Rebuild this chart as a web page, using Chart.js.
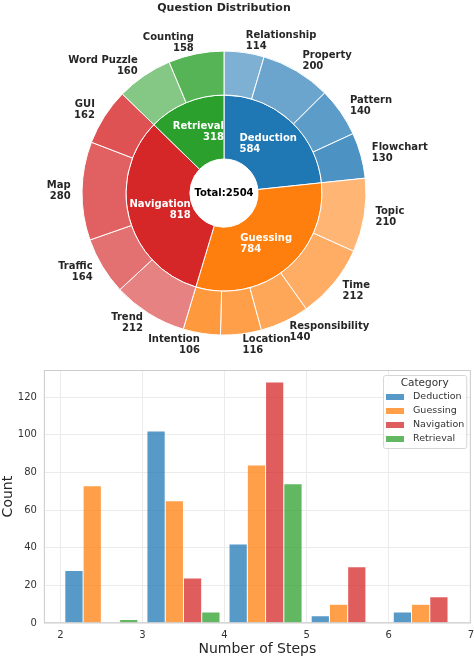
<!DOCTYPE html>
<html>
<head>
<meta charset="utf-8">
<script src="https://cdn.jsdelivr.net/npm/chart.js@4.4.1/dist/chart.umd.min.js"></script>
<style>
html, body { margin: 0; padding: 0; background: #fff; width: 474px; height: 656px; overflow: hidden; }
#pieBox { position: absolute; left: 0; top: 0; }
#barBox { position: absolute; left: 0; top: 360px; }
</style>
</head>
<body>
<div id="pieBox"><canvas id="pieCanvas" width="474" height="371"></canvas></div>
<div id="barBox"><canvas id="barCanvas" width="474" height="298"></canvas></div>
<script>
// top chart: categories (inner ring) and their sub types (outer ring)
var categories = ["Deduction", "Guessing", "Navigation", "Retrieval"];
var categoryCounts = [584, 784, 818, 318];
var subLabels = ["Relationship", "Property", "Pattern", "Flowchart",
  "Topic", "Time", "Responsibility", "Location", "Intention",
  "Trend", "Traffic", "Map", "GUI",
  "Word Puzzle", "Counting"];
var subCounts = [114, 200, 140, 130, 210, 212, 140, 116, 106, 212, 164, 280, 162, 160, 158];

// bottom chart: count per number of steps
var stepBins = [2, 3, 4, 5, 6];
var binWidth = 1;
var deductionSteps = [28, 102, 42, 4, 6];
var guessingSteps = [73, 65, 84, 10, 10];
var navigationSteps = [0, 24, 128, 30, 14];
var retrievalSteps = [2, 6, 74, 0, 0];

var mainColors = ["#1f77b4", "#ff7f0e", "#d62728", "#2ca02c"];
var subColors = [
  "rgba(31,119,180,0.58)", "rgba(31,119,180,0.66)", "rgba(31,119,180,0.73)", "rgba(31,119,180,0.8)",
  "rgba(255,127,14,0.58)", "rgba(255,127,14,0.64)", "rgba(255,127,14,0.69)", "rgba(255,127,14,0.75)", "rgba(255,127,14,0.8)",
  "rgba(214,39,40,0.58)", "rgba(214,39,40,0.66)", "rgba(214,39,40,0.73)", "rgba(214,39,40,0.8)",
  "rgba(44,160,44,0.58)", "rgba(44,160,44,0.8)"
];
var barColors = ["rgba(31,119,180,0.75)", "rgba(255,127,14,0.75)", "rgba(214,39,40,0.75)", "rgba(44,160,44,0.75)"];

Chart.defaults.font.family = '"DejaVu Sans", sans-serif';
Chart.defaults.color = "#333";

var sunburstLabels = {
  id: "sunburstLabels",
  afterDatasetsDraw: function (chart) {
    var ctx = chart.ctx;
    var outer = chart.getDatasetMeta(0).data;
    var inner = chart.getDatasetMeta(1).data;
    ctx.save();
    ctx.font = 'bold 10px "DejaVu Sans"';
    ctx.textBaseline = "middle";

    ctx.fillStyle = "#262626";
    outer.forEach(function (arc, i) {
      var mid = (arc.startAngle + arc.endAngle) / 2;
      var r = arc.outerRadius * 1.08;
      var x = arc.x + Math.cos(mid) * r;
      var y = arc.y + Math.sin(mid) * r;
      ctx.textAlign = Math.cos(mid) >= 0 ? "left" : "right";
      ctx.fillText(subLabels[i], x, y - 5.5);
      ctx.fillText(String(subCounts[i]), x, y + 5.5);
    });

    ctx.fillStyle = "#fff";
    inner.forEach(function (arc, i) {
      var mid = (arc.startAngle + arc.endAngle) / 2;
      var r = (arc.innerRadius + arc.outerRadius) / 2;
      var x = arc.x + Math.cos(mid) * r;
      var y = arc.y + Math.sin(mid) * r;
      var lines = [categories[i], String(categoryCounts[i])];
      var w = Math.max(ctx.measureText(lines[0]).width, ctx.measureText(lines[1]).width);
      var lx;
      if (Math.cos(mid) >= 0) { ctx.textAlign = "left"; lx = x - w / 2; }
      else { ctx.textAlign = "right"; lx = x + w / 2; }
      ctx.fillText(lines[0], lx, y - 5.5);
      ctx.fillText(lines[1], lx, y + 5.5);
    });

    var total = categoryCounts.reduce(function (a, b) { return a + b; }, 0);
    ctx.fillStyle = "#000";
    ctx.textAlign = "center";
    ctx.fillText("Total:" + total, inner[0].x, inner[0].y);
    ctx.restore();
  }
};

new Chart(document.getElementById("pieCanvas"), {
  type: "doughnut",
  data: {
    labels: subLabels,
    datasets: [
      { label: "Type", data: subCounts, backgroundColor: subColors, borderColor: "#fff", borderWidth: 1, weight: 44 },
      { label: "Category", data: categoryCounts, backgroundColor: mainColors, borderColor: "#fff", borderWidth: 1, weight: 64 }
    ]
  },
  options: {
    responsive: false,
    animation: false,
    radius: 142,
    cutout: "24%",
    layout: { padding: { right: 26 } },
    plugins: {
      legend: { display: false },
      tooltip: { enabled: false },
      title: {
        display: true,
        text: "Question Distribution",
        color: "#262626",
        font: { size: 11, weight: "bold" },
        padding: { top: 2, bottom: 0 }
      }
    }
  },
  plugins: [sunburstLabels]
});

function toPoints(values) {
  return values.map(function (v, i) { return { x: stepBins[i] + binWidth / 2, y: v }; });
}

var frame = {
  id: "frame",
  afterDatasetsDraw: function (chart) {
    var a = chart.chartArea, ctx = chart.ctx;
    ctx.save();
    ctx.strokeStyle = "#cccccc";
    ctx.lineWidth = 1;
    ctx.strokeRect(a.left + 0.5, a.top + 0.5, a.right - a.left - 1, a.bottom - a.top - 1);
    ctx.restore();
  }
};

var boxLegend = {
  id: "boxLegend",
  afterDraw: function (chart) {
    var ctx = chart.ctx, a = chart.chartArea;
    var sets = chart.data.datasets;
    ctx.save();
    ctx.font = '9.5px "DejaVu Sans"';
    var maxW = 0;
    sets.forEach(function (d) { maxW = Math.max(maxW, ctx.measureText(d.label).width); });
    var w = 3 + 18 + 9 + maxW + 2;
    var h = 73;
    var left = Math.round(a.right - 5 - w), top = a.top + 5;
    ctx.fillStyle = "rgba(255,255,255,0.85)";
    ctx.strokeStyle = "#d6d6d6";
    ctx.lineWidth = 1;
    ctx.beginPath();
    ctx.roundRect(left + 0.5, top + 0.5, w, h, 2);
    ctx.fill();
    ctx.stroke();
    ctx.fillStyle = "#333";
    ctx.textBaseline = "middle";
    ctx.textAlign = "center";
    ctx.font = '10.5px "DejaVu Sans"';
    ctx.fillText("Category", left + w / 2, top + 8);
    ctx.font = '9.5px "DejaVu Sans"';
    ctx.textAlign = "left";
    sets.forEach(function (d, i) {
      var y = top + 22 + i * 14;
      ctx.fillStyle = d.backgroundColor;
      ctx.fillRect(left + 3, y - 3, 18, 6);
      ctx.fillStyle = "#333";
      ctx.fillText(d.label, left + 30, y);
    });
    ctx.restore();
  }
};

var barSeries = [deductionSteps, guessingSteps, navigationSteps, retrievalSteps];

new Chart(document.getElementById("barCanvas"), {
  type: "bar",
  data: {
    datasets: categories.map(function (name, i) {
      return {
        label: name,
        data: toPoints(barSeries[i]),
        backgroundColor: barColors[i],
        borderColor: "rgba(255,255,255,0.6)",
        borderWidth: 0.5,
        categoryPercentage: 0.89,
        barPercentage: 1
      };
    })
  },
  options: {
    responsive: false,
    animation: false,
    layout: { padding: { top: 10, right: 3, left: 0, bottom: 0 } },
    plugins: { legend: { display: false }, tooltip: { enabled: false } },
    scales: {
      x: {
        type: "linear",
        min: 1.8,
        max: 7,
        offset: false,
        grid: { color: "#ebebeb", drawTicks: true, tickLength: 6, tickColor: "rgba(0,0,0,0)", offset: false },
        border: { display: false },
        ticks: { stepSize: 1, includeBounds: false, padding: 0, color: "#333", font: { size: 10 } },
        title: { display: true, text: "Number of Steps", color: "#262626", font: { size: 14 }, padding: { top: 0, bottom: 0 } }
      },
      y: {
        min: 0,
        max: 134.4,
        grid: { color: "#ebebeb", drawTicks: true, tickLength: 7, tickColor: "rgba(0,0,0,0)" },
        border: { display: false },
        ticks: { stepSize: 20, includeBounds: false, padding: 0, color: "#333", font: { size: 10 } },
        title: { display: true, text: "Count", color: "#262626", font: { size: 14 }, padding: { top: 0, bottom: 1 } }
      }
    }
  },
  plugins: [frame, boxLegend]
});
</script>
</body>
</html>
